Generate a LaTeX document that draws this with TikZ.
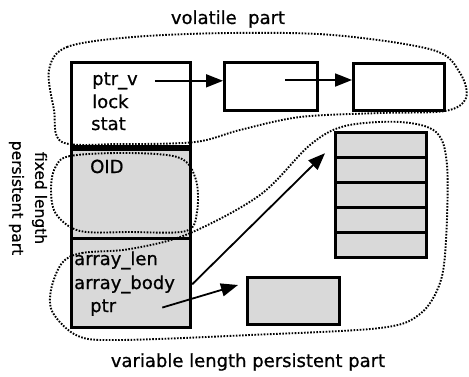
\documentclass[tikz,border=0pt]{standalone}
\usepackage{fontspec}
\setmainfont{DejaVu Sans}[FakeBold=0.8]
\usetikzlibrary{arrows.meta, positioning}

\begin{document}
\begin{tikzpicture}[
    x=1pt, y=-1pt,
    font=\fontsize{18}{22}\selectfont,
    cell/.style={rectangle, draw, line width=3.2pt, inner sep=0pt, anchor=north west},
    stipple/.style={fill=black!15},
    field/.style={inner sep=0pt, anchor=base west},
    ptr/.style={-{Triangle[length=17pt,width=13pt]}, line width=1.8pt},
    region/.style={dash pattern=on 1.6pt off 1.5pt, line width=1.9pt}
]
    \useasboundingbox (0,0) rectangle (469,376);

    % object header: volatile, fixed and variable sections
    \node[cell, minimum width=119pt, minimum height=84pt] (vol) at (70,61) {};
    \node[cell, stipple, minimum width=119pt, minimum height=89pt] (fix) at (70,148) {};
    \node[cell, stipple, minimum width=119pt, minimum height=89pt] (var) at (70,237) {};

    \node[field] (ptrv) at (92,85) {ptr\_v};
    \node[field] (lock) at (92,108) {lock};
    \node[field] (stat) at (91,130) {stat};
    \node[field] (oid) at (90,173) {OID};
    \node[field] (alen) at (74,265) {array\_len};
    \node[field] (abody) at (74,289) {array\_body};
    \node[field] (ptrp) at (90,312) {ptr};

    % volatile chain
    \node[cell, minimum width=93pt, minimum height=48pt] (next1) at (223,61) {};
    \node[cell, minimum width=91pt, minimum height=47pt] (next2) at (352,62) {};
    \coordinate (link) at (285,80);

    \draw[ptr] ([xshift=17pt]ptrv.east) -- (ptrv.east -| next1.west);
    \draw[ptr] (link) -- (link -| next2.west);

    % array body and pointed-to block
    \foreach \i in {0,...,4}
        \node[cell, stipple, minimum width=91pt, minimum height=25pt] (elem\i) at (334,{131+25*\i}) {};
    \node[cell, stipple, minimum width=92pt, minimum height=47pt] (target) at (246,276) {};

    \draw[ptr] (var.east |- abody) -- ([shift={(-9pt,6pt)}]elem0.south west);
    \draw[ptr] ([xshift=46pt]ptrp.east) -- ([shift={(-8pt,-9pt)}]target.north west);

    % region outlines
    \draw[region] plot[smooth cycle, tension=0.55] coordinates {
        (49,70) (67,47) (133,37) (230,33) (333,35) (433,50) (460,73) (466,98)
        (445,111) (380,113) (300,117) (240,130) (195,142) (120,144) (62,142) (54,110)};
    \draw[region] plot[smooth cycle, tension=0.55] coordinates {
        (55,168) (70,156) (130,153) (180,158) (196,180) (197,212) (186,231)
        (130,232) (80,231) (56,214) (51,190)};
    \draw[region] plot[smooth cycle, tension=0.55] coordinates {
        (62,263) (82,253) (130,249) (188,234) (260,195) (310,145) (345,126)
        (400,122) (436,132) (447,165) (446,240) (440,283) (420,314) (380,328)
        (250,335) (120,340) (78,336) (53,313) (51,290)};

    % region names
    \node (volname) at (228,19) {volatile\ \ part};
    \node (varname) at (248,362) {variable\ length\ persistent\ part};
    \node[rotate=-90, align=center, font=\fontsize{15.5}{19}\selectfont] (fixname) at (28,198)
        {fixed length\\[4pt]persistent part};
\end{tikzpicture}
\end{document}
